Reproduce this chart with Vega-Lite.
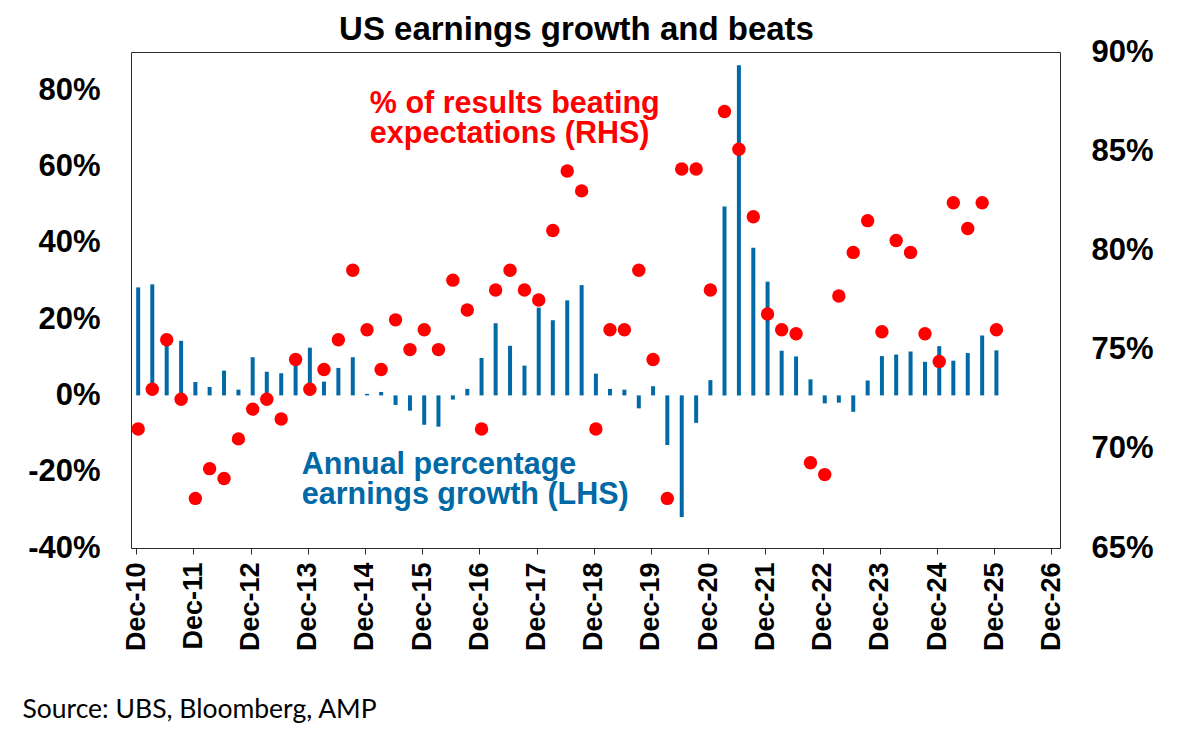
{
  "$schema": "https://vega.github.io/schema/vega-lite/v6.json",
  "autosize": {"type": "none"},
  "width": 929,
  "height": 496,
  "padding": {"left": 131, "top": 52, "right": 141, "bottom": 193},
  "background": "white",
  "title": {
    "text": "US earnings growth and beats",
    "font": "Liberation Sans",
    "fontSize": 33,
    "fontWeight": "bold",
    "color": "black",
    "anchor": "middle",
    "baseline": "alphabetic",
    "offset": 10,
    "dx": -19,
    "dy": 47
  },
  "config": {
    "view": {"stroke": "#2b2b2b", "strokeWidth": 1},
    "axis": {
      "labelFont": "Liberation Sans",
      "labelFontWeight": "bold",
      "labelColor": "black",
      "grid": false,
      "domain": false
    }
  },
  "data": {
    "values": [
      {"date": "2010-12-15", "growth": 28.3, "beat": 71.0},
      {"date": "2011-03-15", "growth": 29.1, "beat": 73.0},
      {"date": "2011-06-15", "growth": 14.0, "beat": 75.5},
      {"date": "2011-09-15", "growth": 14.3, "beat": 72.5},
      {"date": "2011-12-15", "growth": 3.5, "beat": 67.5},
      {"date": "2012-03-15", "growth": 2.2, "beat": 69.0},
      {"date": "2012-06-15", "growth": 6.5, "beat": 68.5},
      {"date": "2012-09-15", "growth": 1.5, "beat": 70.5},
      {"date": "2012-12-15", "growth": 10.0, "beat": 72.0},
      {"date": "2013-03-15", "growth": 6.2, "beat": 72.5},
      {"date": "2013-06-15", "growth": 5.8, "beat": 71.5},
      {"date": "2013-09-15", "growth": 8.5, "beat": 74.5},
      {"date": "2013-12-15", "growth": 12.5, "beat": 73.0},
      {"date": "2014-03-15", "growth": 3.6, "beat": 74.0},
      {"date": "2014-06-15", "growth": 7.2, "beat": 75.5},
      {"date": "2014-09-15", "growth": 10.0, "beat": 79.0},
      {"date": "2014-12-15", "growth": 0.4, "beat": 76.0},
      {"date": "2015-03-15", "growth": 0.9, "beat": 74.0},
      {"date": "2015-06-15", "growth": -2.5, "beat": 76.5},
      {"date": "2015-09-15", "growth": -4.0, "beat": 75.0},
      {"date": "2015-12-15", "growth": -7.7, "beat": 76.0},
      {"date": "2016-03-15", "growth": -8.2, "beat": 75.0},
      {"date": "2016-06-15", "growth": -1.1, "beat": 78.5},
      {"date": "2016-09-15", "growth": 1.7, "beat": 77.0},
      {"date": "2016-12-15", "growth": 9.8, "beat": 71.0},
      {"date": "2017-03-15", "growth": 18.9, "beat": 78.0},
      {"date": "2017-06-15", "growth": 13.0, "beat": 79.0},
      {"date": "2017-09-15", "growth": 7.8, "beat": 78.0},
      {"date": "2017-12-15", "growth": 23.0, "beat": 77.5},
      {"date": "2018-03-15", "growth": 19.7, "beat": 81.0},
      {"date": "2018-06-15", "growth": 24.9, "beat": 84.0},
      {"date": "2018-09-15", "growth": 28.9, "beat": 83.0},
      {"date": "2018-12-15", "growth": 5.7, "beat": 71.0},
      {"date": "2019-03-15", "growth": 1.7, "beat": 76.0},
      {"date": "2019-06-15", "growth": 1.5, "beat": 76.0},
      {"date": "2019-09-15", "growth": -3.4, "beat": 79.0},
      {"date": "2019-12-15", "growth": 2.4, "beat": 74.5},
      {"date": "2020-03-15", "growth": -13.0, "beat": 67.5},
      {"date": "2020-06-15", "growth": -31.9, "beat": 84.1},
      {"date": "2020-09-15", "growth": -7.2, "beat": 84.1},
      {"date": "2020-12-15", "growth": 4.0, "beat": 78.0},
      {"date": "2021-03-15", "growth": 49.5, "beat": 87.0},
      {"date": "2021-06-15", "growth": 86.5, "beat": 85.1},
      {"date": "2021-09-15", "growth": 38.7, "beat": 81.7},
      {"date": "2021-12-15", "growth": 29.8, "beat": 76.8},
      {"date": "2022-03-15", "growth": 11.7, "beat": 76.0},
      {"date": "2022-06-15", "growth": 10.2, "beat": 75.8},
      {"date": "2022-09-15", "growth": 4.2, "beat": 69.3},
      {"date": "2022-12-15", "growth": -2.1, "beat": 68.7},
      {"date": "2023-03-15", "growth": -1.9, "beat": 77.7},
      {"date": "2023-06-15", "growth": -4.3, "beat": 79.9},
      {"date": "2023-09-15", "growth": 3.9, "beat": 81.5},
      {"date": "2023-12-15", "growth": 10.3, "beat": 75.9},
      {"date": "2024-03-15", "growth": 10.7, "beat": 80.5},
      {"date": "2024-06-15", "growth": 11.5, "beat": 79.9},
      {"date": "2024-09-15", "growth": 8.8, "beat": 75.8},
      {"date": "2024-12-15", "growth": 12.9, "beat": 74.4},
      {"date": "2025-03-15", "growth": 9.1, "beat": 82.4},
      {"date": "2025-06-15", "growth": 11.1, "beat": 81.1},
      {"date": "2025-09-15", "growth": 15.7, "beat": 82.4},
      {"date": "2025-12-15", "growth": 11.8, "beat": 76.0}
    ]
  },
  "encoding": {
    "x": {
      "field": "date",
      "type": "temporal",
      "scale": {
        "type": "utc",
        "domain": [
          {"year": 2010, "month": 12, "date": 1, "utc": true},
          {"year": 2026, "month": 12, "date": 24, "utc": true}
        ]
      },
      "axis": {
        "values": [
          {"year": 2010, "month": 12, "date": 1, "utc": true},
          {"year": 2011, "month": 12, "date": 1, "utc": true},
          {"year": 2012, "month": 12, "date": 1, "utc": true},
          {"year": 2013, "month": 12, "date": 1, "utc": true},
          {"year": 2014, "month": 12, "date": 1, "utc": true},
          {"year": 2015, "month": 12, "date": 1, "utc": true},
          {"year": 2016, "month": 12, "date": 1, "utc": true},
          {"year": 2017, "month": 12, "date": 1, "utc": true},
          {"year": 2018, "month": 12, "date": 1, "utc": true},
          {"year": 2019, "month": 12, "date": 1, "utc": true},
          {"year": 2020, "month": 12, "date": 1, "utc": true},
          {"year": 2021, "month": 12, "date": 1, "utc": true},
          {"year": 2022, "month": 12, "date": 1, "utc": true},
          {"year": 2023, "month": 12, "date": 1, "utc": true},
          {"year": 2024, "month": 12, "date": 1, "utc": true},
          {"year": 2025, "month": 12, "date": 1, "utc": true},
          {"year": 2026, "month": 12, "date": 1, "utc": true}
        ],
        "labelExpr": "utcFormat(datum.value, '%b-%y')",
        "labelAngle": -90,
        "labelFontSize": 27,
        "labelPadding": 8,
        "ticks": true,
        "tickSize": 6,
        "tickColor": "#2b2b2b",
        "labelOverlap": false,
        "labelFlush": false,
        "title": "Source: UBS, Bloomberg, AMP",
        "titleFont": "Lato",
        "titleFontSize": 26.5,
        "titleFontWeight": "normal",
        "titleColor": "black",
        "titleAngle": 0,
        "titleAlign": "left",
        "titleAnchor": "start",
        "titleBaseline": "alphabetic",
        "titleX": -109,
        "titleY": 169
      }
    }
  },
  "layer": [
    {
      "mark": {"type": "bar", "width": 4, "color": "#0069a6"},
      "encoding": {
        "y": {
          "field": "growth",
          "type": "quantitative",
          "scale": {"domain": [-40, 90], "nice": false},
          "axis": {
            "orient": "left",
            "values": [-40, -20, 0, 20, 40, 60, 80],
            "labelExpr": "datum.value + '%'",
            "labelFontSize": 31,
            "labelPadding": 31,
            "ticks": false,
            "title": null
          }
        }
      }
    },
    {
      "mark": {"type": "rule", "color": "#2b2b2b", "strokeWidth": 1.5},
      "encoding": {
        "y": {"datum": 0, "type": "quantitative", "scale": {"domain": [-40, 90], "nice": false}, "axis": null}
      }
    },
    {
      "mark": {"type": "circle", "size": 180, "color": "#ff0000", "opacity": 1},
      "encoding": {
        "y": {
          "field": "beat",
          "type": "quantitative",
          "scale": {"domain": [65, 90], "nice": false, "zero": false},
          "axis": {
            "orient": "right",
            "values": [65, 70, 75, 80, 85, 90],
            "labelExpr": "datum.value + '%'",
            "labelFontSize": 31,
            "labelPadding": 31,
            "ticks": false,
            "title": null
          }
        }
      }
    },
    {
      "data": {
        "values": [
          {"date": "2015-01-02", "value": 74, "label": "% of results beating\nexpectations (RHS)", "series": "beat"},
          {"date": "2013-10-24", "value": -20.6, "label": "Annual percentage\nearnings growth (LHS)", "series": "growth"}
        ]
      },
      "mark": {
        "type": "text",
        "align": "left",
        "baseline": "alphabetic",
        "font": "Liberation Sans",
        "fontWeight": "bold",
        "fontSize": 30.5,
        "lineHeight": 30,
        "lineBreak": "\n"
      },
      "encoding": {
        "x": {"field": "date", "type": "temporal"},
        "y": {"field": "value", "type": "quantitative", "scale": {"domain": [-40, 90], "nice": false}, "axis": null},
        "text": {"field": "label"},
        "color": {
          "field": "series",
          "type": "nominal",
          "scale": {"domain": ["beat", "growth"], "range": ["#ff0000", "#0069a6"]},
          "legend": null
        }
      }
    }
  ],
  "resolve": {"scale": {"y": "independent"}}
}
